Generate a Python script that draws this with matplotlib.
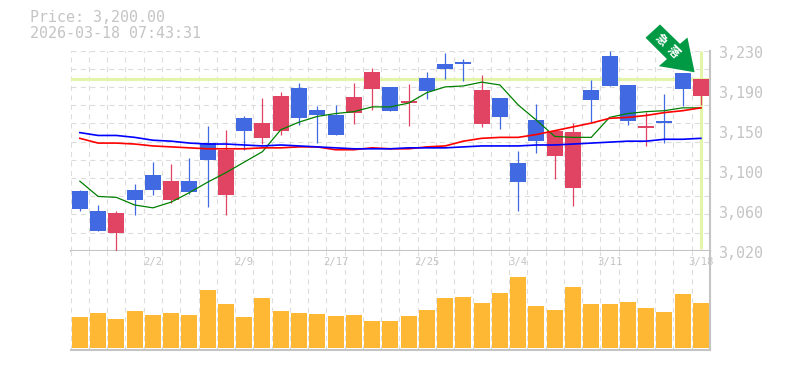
import matplotlib
matplotlib.use('Agg')
import matplotlib.pyplot as plt
from matplotlib.patches import Polygon
import numpy as np

W, H = 785, 370
LEFT, RIGHT = 70.7, 710.0
P_TOP, P_BOT = 50.7, 250.7
V_BOT = 349.7

# ohlc, red closes up, blue closes down
opens = [3083, 3062, 3039, 3084, 3099, 3073, 3093, 3133, 3078, 3159, 3138, 3146, 3191, 3168, 3162,
         3165, 3190, 3192, 3175, 3201, 3216, 3218, 3153, 3180, 3112, 3157, 3119, 3086, 3189, 3224,
         3194, 3149, 3156, 3207, 3182]
closes = [3064, 3041, 3060, 3073, 3084, 3093, 3082, 3115, 3126, 3146, 3154, 3182, 3159, 3162, 3142,
          3181, 3208, 3167, 3177, 3188, 3211, 3216, 3189, 3160, 3092, 3135, 3146, 3145, 3178, 3193,
          3156, 3151, 3154, 3190, 3200]
highs = [3084, 3068, 3062, 3090, 3113, 3111, 3117, 3151, 3147, 3161, 3180, 3187, 3196, 3172, 3173,
         3196, 3212, 3192, 3195, 3208, 3228, 3221, 3205, 3180, 3125, 3174, 3147, 3154, 3199, 3230,
         3194, 3166, 3185, 3207, 3200]
lows = [3062, 3041, 3020, 3058, 3078, 3070, 3080, 3066, 3058, 3126, 3132, 3141, 3152, 3133, 3142,
        3153, 3168, 3167, 3151, 3179, 3200, 3198, 3150, 3148, 3062, 3123, 3095, 3067, 3155, 3193,
        3152, 3130, 3133, 3172, 3173]
ma_green = [3093, 3077, 3076, 3068, 3065, 3071, 3081, 3092, 3102, 3113, 3124, 3147, 3155, 3161, 3164,
            3166, 3171, 3171, 3175, 3186, 3192, 3193, 3197, 3194, 3173, 3157, 3140, 3139, 3139, 3160,
            3164, 3166, 3167, 3170, 3170]
ma_red = [3138, 3133, 3133, 3132, 3130, 3129, 3128, 3127, 3127, 3127, 3128, 3128, 3129, 3129, 3126,
          3126, 3128, 3127, 3127, 3129, 3130, 3135, 3138, 3139, 3139, 3142, 3146, 3150, 3154, 3159,
          3160, 3162, 3165, 3167, 3170]
ma_blue = [3144, 3141, 3141, 3139, 3136, 3135, 3133, 3132, 3132, 3131, 3130, 3131, 3130, 3129, 3128,
           3127, 3127, 3127, 3128, 3128, 3128, 3129, 3130, 3130, 3130, 3131, 3131, 3132, 3133, 3134,
           3135, 3135, 3137, 3137, 3138]
volumes = [31, 35, 29, 37, 33, 35, 33, 58, 44, 31, 50, 37, 35, 34, 32, 33, 27, 27,
           32, 38, 50, 51, 45, 55, 71, 42, 38, 61, 44, 44, 46, 40, 36, 54, 45]
date_idx = [4, 9, 14, 19, 24, 29, 34]
date_labels = ['2/2', '2/9', '2/17', '2/25', '3/4', '3/11', '3/18']
price_ticks = [3020, 3062, 3104, 3146, 3188, 3230]
price_labels = ['3,020', '3,060', '3,100', '3,150', '3,190', '3,230']
last_price = 3200

GREY = '#c4c4c4'
GRID = '#dcdcdc'
UP = '#e04462'
DOWN = '#4169e1'
MONO = 'DejaVu Sans Mono'

plt.rcParams['font.family'] = MONO
n = len(closes)
x = np.arange(n)

fig = plt.figure(figsize=(W / 100, H / 100), dpi=100)


def panel(top, bottom):
    a = fig.add_axes([LEFT / W, 1 - bottom / H, (RIGHT - LEFT) / W, (bottom - top) / H])
    a.set_xlim(-0.5, n - 0.5)
    a.set_xticks(np.arange(n + 1) - 0.5)
    a.tick_params(length=0, labelbottom=False, labelleft=False)
    a.grid(True, color=GRID, linestyle=(0, (4.5, 4)), linewidth=0.8)
    a.set_axisbelow(True)
    for s in a.spines.values():
        s.set_color(GREY)
        s.set_linewidth(1.5)
    a.spines['left'].set_visible(False)
    return a


ax = panel(P_TOP, P_BOT)
ax.set_ylim(3020, 3230)
ax.set_yticks(np.linspace(3020, 3230, 12))
ax.spines['top'].set_visible(False)

vol = panel(P_BOT, V_BOT)
vol.set_ylim(-1.7, 97)
vol.set_yticks([])
vol.spines['top'].set_visible(False)

# current price and date markers
ax.axhline(last_price, color='#e2f5a9', linewidth=2.2, zorder=1.5)
ax.plot([n - 1, n - 1], [3022, 3230], color='#e2f5a9', linewidth=2.2, zorder=1.5, solid_capstyle='butt')

colors = [UP if c >= o else DOWN for o, c in zip(opens, closes)]
ax.vlines(x, lows, highs, colors=colors, linewidth=0.9, zorder=3)
body_low = np.minimum(opens, closes)
body_h = np.abs(np.subtract(closes, opens))
ax.bar(x, body_h, bottom=body_low, width=0.875, color=colors, zorder=3)

ax.plot(x, ma_green, color='#008000', linewidth=0.9, zorder=4)
ax.plot(x, ma_red, color='#ff0000', linewidth=1.2, zorder=4)
ax.plot(x, ma_blue, color='#0000ff', linewidth=1.2, zorder=4)

vol.bar(x, volumes, width=0.875, color='#ffb833', zorder=3)

for lab, i in zip(date_labels, date_idx):
    vol.annotate(lab, (i, 97), xytext=(0, -11), textcoords='offset pixels', ha='center', va='center',
                 color=GREY, fontsize=7.6, clip_on=False, zorder=5)

for lab, p in zip(price_labels, price_ticks):
    ax.annotate(lab, (1, p), xycoords=ax.get_yaxis_transform(), xytext=(9, -3), textcoords='offset pixels',
                ha='left', va='center', color=GREY, fontsize=10.8, annotation_clip=False)

fig.text(30 / W, 1 - 18 / H, 'Price: 3,200.00', color=GREY, fontsize=10.8, va='center')
fig.text(30 / W, 1 - 33 / H, '2026-03-18 07:43:31', color=GREY, fontsize=10.8, va='center')

# arrow badge, in figure pixels
arrow = [(660, 23.3), (680, 42.7), (688, 36), (695.7, 73.3), (657, 66.7), (665.7, 59), (644.3, 37.7)]
fig.add_artist(Polygon([(px / W, 1 - py / H) for px, py in arrow], closed=True, transform=fig.transFigure,
                       facecolor='#009a44', edgecolor='white', linewidth=1.2, zorder=10))
for ch, gx, gy in [('\u6025', 661, 40), ('\u843d', 673, 52)]:
    fig.text(gx / W, 1 - gy / H, ch, color='white', fontsize=8.5, rotation=-45, rotation_mode='anchor',
             ha='center', va='center', family=['Noto Sans CJK JP', 'DejaVu Sans'], weight='bold', zorder=11)

fig.savefig('out.png', dpi=100)
